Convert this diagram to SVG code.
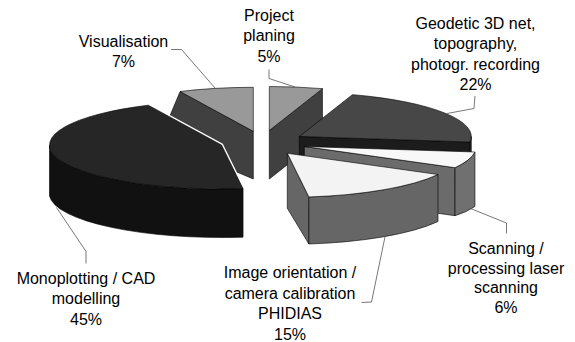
<svg xmlns="http://www.w3.org/2000/svg" width="575" height="342" viewBox="0 0 575 342">
<style>
.o{stroke:#000;stroke-width:0.6;stroke-linejoin:round}
.lbl{font-family:"Liberation Sans",Arial,sans-serif;font-size:16px;fill:#000;text-anchor:middle}
.ld{fill:none;stroke:#555;stroke-width:0.8}
.gap{fill:none;stroke:#fff;stroke-width:3.5;stroke-linejoin:round}
</style>
<rect width="575" height="342" fill="#fff"/>
<g id="visualisation">
<path class="o" fill="#404040" d="M253.3,131.3 L180.1,91.5 L160,139.5 L253.3,179 Z"/>
<path class="o" fill="#999" d="M253.3,131.3 L180.1,91.5 A172,44 0 0 1 253.3,87.3 Z"/>
<text class="lbl" x="123.5" y="46.5">Visualisation</text>
<text class="lbl" x="123.5" y="66.5">7%</text>
</g>
<g id="project-planing">
<path class="o" fill="#404040" d="M269.3,130.5 L322.45,88.65 L322.45,137 L269.3,179 Z"/>
<path class="o" fill="#999" d="M269.3,130.5 L269.3,86.5 A172,44 0 0 1 322.45,88.65 Z"/>
<text class="lbl" x="269" y="20.5">Project</text>
<text class="lbl" x="269" y="41">planing</text>
<text class="lbl" x="269" y="61.5">5%</text>
</g>
<g id="geodetic">
<path class="o" fill="#1c1c1c" d="M299.3,136.5 L469.94,142.01 L469.94,190 L299.3,184.5 Z"/>
<path class="o" fill="#2a2a2a" d="M471.3,136.5 A172,44 0 0 1 469.94,142.01 L469.94,190 A172,44 0 0 0 471.3,184.5 Z"/>
<path class="o" fill="#474747" d="M299.3,136.5 L352.45,94.65 A172,44 0 0 1 469.94,142.01 Z"/>
<text class="lbl" x="475.5" y="28.5">Geodetic 3D net,</text>
<text class="lbl" x="475.5" y="49">topography,</text>
<text class="lbl" x="475.5" y="69.5">photogr. recording</text>
<text class="lbl" x="475.5" y="90">22%</text>
</g>
<g id="scanning">
<path class="o" fill="#6b6b6b" d="M304.3,146.5 L455.03,167.7 L455.03,215.7 L304.3,194.5 Z"/>
<path class="o" fill="#707070" d="M474.94,152.01 A172,44 0 0 1 455.03,167.7 L455.03,215.7 Q466,212.5 474.94,206.5 Z"/>
<path class="o" fill="#f8f8f8" d="M304.3,146.5 L474.94,152.01 A172,44 0 0 1 455.03,167.7 Z"/>
<text class="lbl" x="506" y="254">Scanning /</text>
<text class="lbl" x="506" y="273.5">processing laser</text>
<text class="lbl" x="506" y="293">scanning</text>
<text class="lbl" x="506" y="312.5">6%</text>
</g>
<g id="image-orientation">
<path class="o" fill="#666" d="M287.3,153.3 L308.86,196.95 L308.86,244 L287.3,208.3 Z"/>
<path class="o" fill="#666" d="M438.03,174.5 A172,44 0 0 1 308.86,196.95 L308.86,244 A172,44 0 0 0 438.03,221.5 Z"/>
<path class="o" fill="#f3f3f3" d="M287.3,153.3 L438.03,174.5 A172,44 0 0 1 308.86,196.95 Z"/>
<text class="lbl" x="290" y="278">Image orientation /</text>
<text class="lbl" x="290" y="298.5">camera calibration</text>
<text class="lbl" x="290" y="319">PHIDIAS</text>
<text class="lbl" x="290" y="339.5">15%</text>
</g>
<g id="monoplotting">
<path class="gap" d="M148.27,105.19 L221.5,145 L243.06,188.65"/>
<path class="o" fill="#111" d="M243.06,188.65 A172,44 0 0 1 49.5,145 L49.5,196 A172,44 0 0 0 243.06,237.15 Z"/>
<path class="o" fill="#262626" d="M221.5,145 L243.06,188.65 A172,44 0 0 1 148.27,105.19 Z"/>
<text class="lbl" x="86" y="283.5">Monoplotting / CAD</text>
<text class="lbl" x="86" y="304">modelling</text>
<text class="lbl" x="86" y="324.5">45%</text>
</g>
<g id="connectors">
<path class="ld" d="M171,49.5 L181.5,49.5 L215,88"/>
<path class="ld" d="M269,69.5 L269,78.5 L295,87"/>
<path class="ld" d="M475,96 L474,108.5 L447,113.5"/>
<path class="ld" d="M470,208.3 L506.5,223 L506.5,233.5"/>
<path class="ld" d="M361.5,302.5 L371.5,302 L385,236.8"/>
<path class="ld" d="M56.5,207.5 L86,251.5 L86,263.5"/>
</g>
</svg>
